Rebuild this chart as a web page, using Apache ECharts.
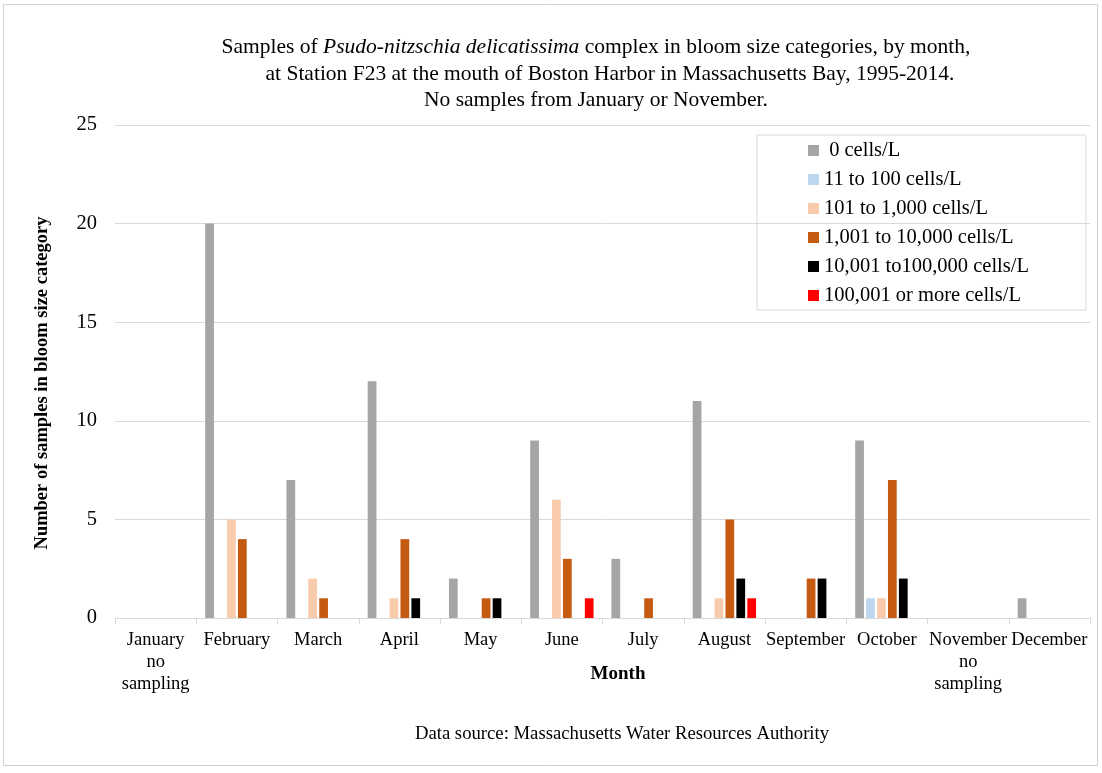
<!DOCTYPE html>
<html><head><meta charset="utf-8">
<script src="https://cdn.jsdelivr.net/npm/echarts@6/dist/echarts.min.js"></script>
<style>html,body{margin:0;padding:0;background:#fff}#c{width:1102px;height:773px}</style>
</head><body><div id="c"></div>
<script>
const months = ['January\nno\nsampling','February','March','April','May','June','July','August','September','October','November\nno\nsampling','December'];
const seriesNames = [' 0 cells/L','11 to 100 cells/L','101 to 1,000 cells/L','1,001 to 10,000 cells/L','10,001 to100,000 cells/L','100,001 or more cells/L'];
const cells0      = [0,20,7,12,2,9,3,11,0,9,0,1];
const cells11     = [0,0,0,0,0,0,0,0,0,1,0,0];
const cells101    = [0,5,2,1,0,6,0,1,0,1,0,0];
const cells1001   = [0,4,1,4,1,3,1,5,2,7,0,0];
const cells10001  = [0,0,0,1,1,0,0,2,2,2,0,0];
const cells100001 = [0,0,0,0,0,1,0,1,0,0,0,0];
const yTicks = [0,5,10,15,20,25];
const colors = ['#a5a5a5','#bdd7ee','#f8cbad','#c55a11','#000000','#ff0000'];
const values = [cells0,cells11,cells101,cells1001,cells10001,cells100001];
const serif = '"Liberation Serif","DejaVu Serif",serif';

const chart = echarts.init(document.getElementById('c'));
chart.setOption({
  animation:false,
  color: colors,
  textStyle:{fontFamily:serif},
  graphic:[
    {type:'rect',shape:{x:3.5,y:4.5,width:1094,height:761},style:{fill:'none',stroke:'#d0d0d0',lineWidth:1}},
    {type:'text',x:596,y:47,style:{
      text:'{n|Samples of }{i|Psudo-nitzschia delicatissima}{n| complex in bloom size categories, by month,}',
      align:'center',verticalAlign:'middle',
      rich:{n:{fontFamily:serif,fontSize:21.5,fill:'#000'},i:{fontFamily:serif,fontSize:21.5,fontStyle:'italic',fill:'#000'}}}},
    {type:'text',x:610,y:74,style:{text:'at Station F23 at the mouth of Boston Harbor in Massachusetts Bay, 1995-2014.',fontFamily:serif,fontSize:21.5,fill:'#000',align:'center',verticalAlign:'middle'}},
    {type:'text',x:596,y:100,style:{text:'No samples from January or November.',fontFamily:serif,fontSize:21.5,fill:'#000',align:'center',verticalAlign:'middle'}},
    {type:'text',x:618,y:674,style:{text:'Month',fontFamily:serif,fontSize:19,fontWeight:'bold',fill:'#000',align:'center',verticalAlign:'middle'}},
    {type:'text',x:622,y:734,style:{text:'Data source: Massachusetts Water Resources Authority',fontFamily:serif,fontSize:18.7,fill:'#000',align:'center',verticalAlign:'middle'}},
    {type:'text',x:42,y:383,rotation:Math.PI/2,style:{text:'Number of samples in bloom size category',fontFamily:serif,fontSize:18.5,fontWeight:'bold',fill:'#000',align:'center',verticalAlign:'middle'}}
  ],
  legend:{
    orient:'vertical',
    left:757, top:135,
    data:seriesNames,
    itemWidth:11,itemHeight:11,itemGap:8,
    icon:'rect',
    borderColor:'#d9d9d9',borderWidth:1,
    padding:[5,57,4,51],
    textStyle:{fontFamily:serif,fontSize:20.5,color:'#000'}
  },
  grid:{left:115,right:12,top:125,bottom:155},
  xAxis:{
    type:'category',data:months,
    axisLine:{lineStyle:{color:'#d9d9d9'}},
    axisTick:{show:true,length:6,lineStyle:{color:'#d9d9d9'}},
    axisLabel:{fontFamily:serif,fontSize:18.5,color:'#000',margin:11,interval:0,lineHeight:22}
  },
  yAxis:{
    type:'value',min:0,max:25,interval:5,
    axisLine:{show:false},axisTick:{show:false},
    splitLine:{lineStyle:{color:'#d9d9d9'}},
    axisLabel:{fontFamily:serif,fontSize:20.5,color:'#000',margin:18,
      formatter:v=>yTicks.includes(v)?String(v):''}
  },
  series: seriesNames.map((n,i)=>({
    name:n,type:'bar',data:values[i],
    barGap:'25%',barCategoryGap:'22%',
    itemStyle:{color:colors[i]}
  }))
});
</script></body></html>
